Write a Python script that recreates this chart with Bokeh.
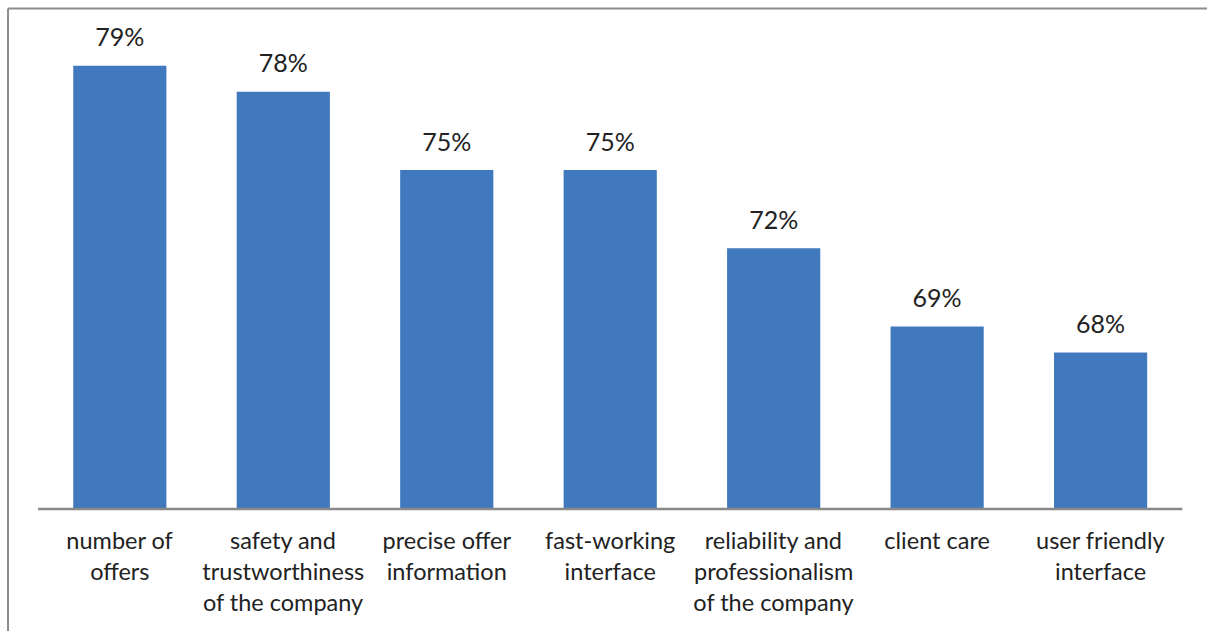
from bokeh.plotting import figure
from bokeh.models import Range1d, ColumnDataSource
from bokeh.core.properties import value
from bokeh.embed import file_html
from bokeh.resources import INLINE

# ---- data ----
categories = [
    "number of\noffers",
    "safety and\ntrustworthiness\nof the company",
    "precise offer\ninformation",
    "fast-working\ninterface",
    "reliability and\nprofessionalism\nof the company",
    "client care",
    "user friendly\ninterface",
]
values = [79, 78, 75, 75, 72, 69, 68]
value_labels = [f"{v}%" for v in values]

# ---- styling ----
BAR_COLOR = "#4079BD"
TEXT_COLOR = "#222222"
AXIS_COLOR = "#898989"
BORDER_COLOR = "#8C8C8C"
FONT = "Lato"
BASE = 62  # value axis starts here

X0, X1 = -0.230, 7.154
Y0, Y1 = 57.30, 81.505
W, H = 1207, 631
p = figure(width=W, height=H, output_backend="svg", toolbar_location=None,
           x_range=Range1d(X0, X1), y_range=Range1d(Y0, Y1),
           min_border=0, min_border_left=0, min_border_right=0,
           min_border_top=0, min_border_bottom=0)
p.axis.visible = False
p.grid.visible = False
p.outline_line_color = None
p.background_fill_color = "white"
p.border_fill_color = "white"

xs = [i + 0.5 for i in range(len(categories))]
src = ColumnDataSource(dict(x=xs, top=values, lab=value_labels))

p.vbar(x="x", top="top", bottom=BASE, width=0.57, source=src,
       fill_color=BAR_COLOR, line_color=None)

# baseline axis line
p.segment(x0=[0], y0=[BASE], x1=[len(categories)], y1=[BASE],
          line_color=AXIS_COLOR, line_width=2.6)

# value labels
p.text(x="x", y="top", text="lab", source=src, text_align="center",
       text_baseline="alphabetic", y_offset=-29.5,
       text_font=value(FONT), text_font_size="25px", text_color=TEXT_COLOR)

# category labels (one glyph row per line)
lx, ly, lo, lt = [], [], [], []
for i, c in enumerate(categories):
    for k, line in enumerate(c.split("\n")):
        lx.append(xs[i])
        ly.append(BASE)
        lo.append(31.0 + 30.8 * k)
        lt.append(line)
lsrc = ColumnDataSource(dict(x=lx, y=ly, off=lo, t=lt))
p.text(x="x", y="y", text="t", y_offset="off", source=lsrc,
       text_align="center", text_baseline="alphabetic",
       text_font=value(FONT), text_font_size="23.5px", text_color=TEXT_COLOR)

# chart frame border (top and left edges of the chart box)
BX, BY = -0.184, 81.198
p.segment(x0=[BX, BX], y0=[BY, BY], x1=[X1, BX], y1=[BY, Y0],
          line_color=BORDER_COLOR, line_width=2)

open("out.html", "w").write(file_html(p, INLINE))
